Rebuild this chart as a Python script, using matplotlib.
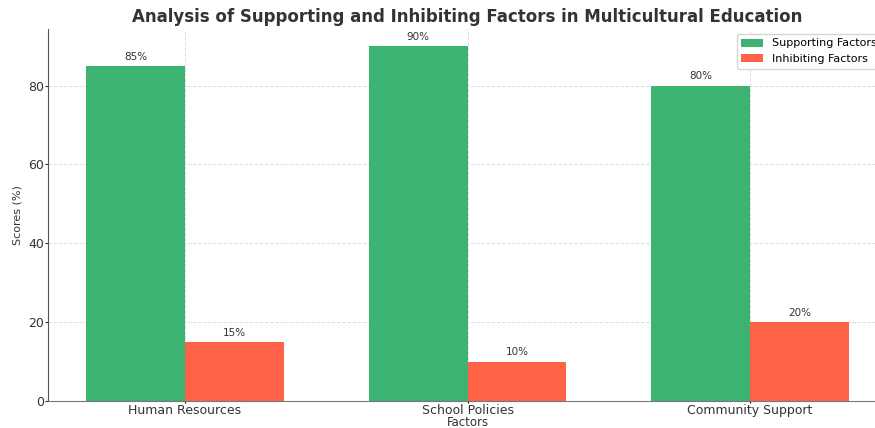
import matplotlib
matplotlib.use("Agg")
import matplotlib.pyplot as plt
import numpy as np

plt.rcParams["font.family"] = ["DejaVu Sans"]

categories = ["Human Resources", "School Policies", "Community Support"]
supporting = [85, 90, 80]
inhibiting = [15, 10, 20]
series_names = ["Supporting Factors", "Inhibiting Factors"]

fig = plt.figure(figsize=(8.75, 4.28), dpi=100)
ax = fig.add_axes([48/875, 27/428, 839/875, 372.5/428])

x = np.arange(len(categories))
w = 0.35
b1 = ax.bar(x - w/2, supporting, w, color="#3CB371", label=series_names[0])
b2 = ax.bar(x + w/2, inhibiting, w, color="#FF6347", label=series_names[1])

for bars in (b1, b2):
    for r in bars:
        ax.annotate(f"{int(r.get_height())}%", (r.get_x() + r.get_width()/2, r.get_height()),
                    xytext=(0, 3), textcoords="offset points", ha="center", va="bottom",
                    fontsize=7.5, color="#333333")

ax.set_xticks(x)
ax.set_xticklabels(categories, fontsize=9, color="#333333")
ax.tick_params(axis="x", length=1.5, pad=0.5)
ax.tick_params(axis="y", labelsize=9, colors="#333333", length=2.5, pad=0.5)
ax.set_xlabel("Factors", fontsize=8.5, color="#333333", labelpad=-0.8)
ax.set_ylabel("Scores (%)", fontsize=8, color="#333333", labelpad=4)
ax.set_title("Analysis of Supporting and Inhibiting Factors in Multicultural Education",
             fontsize=12, fontweight="bold", color="#333333", pad=5)
ax.grid(True, linestyle="--", color="#dddddd", linewidth=0.7)
ax.set_axisbelow(True)
for s in ("top", "right"):
    ax.spines[s].set_visible(False)
ax.spines["left"].set_color("#555555")
ax.spines["bottom"].set_color("#777777")
ax.legend(loc="upper right", fontsize=8, frameon=True)

fig.savefig("out.png", dpi=100)
